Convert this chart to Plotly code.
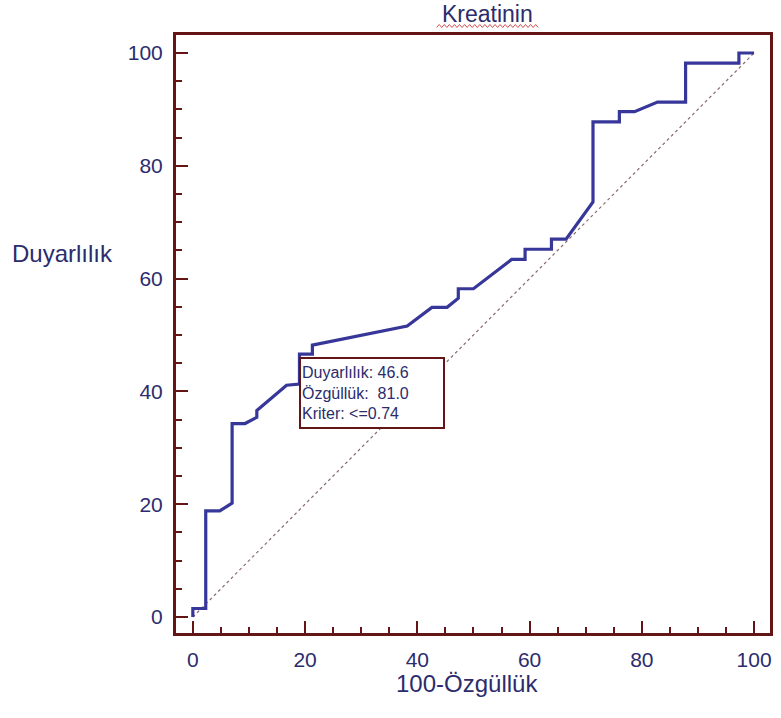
import plotly.graph_objects as go

# ROC curve data (100-Specificity, Sensitivity)
fpr = [0, 0, 2.3, 2.3, 4.8, 7.0, 7.0, 9.3, 11.4, 11.4, 16.7, 19.0, 19.0, 21.3, 21.3,
       38.2, 42.6, 45.3, 47.3, 47.3, 50.0, 56.8, 59.2, 59.2, 63.9, 63.9, 66.5, 71.3,
       71.3, 76.0, 76.0, 78.7, 82.8, 87.8, 87.8, 97.3, 97.3, 100]
tpr = [0, 1.5, 1.5, 18.8, 18.8, 20.2, 34.3, 34.3, 35.4, 36.6, 41.1, 41.3, 46.6, 46.6, 48.2,
       51.6, 54.9, 54.9, 56.5, 58.2, 58.2, 63.4, 63.4, 65.2, 65.2, 67.0, 67.0, 73.6,
       87.8, 87.8, 89.6, 89.6, 91.3, 91.3, 98.2, 98.2, 100, 100]
diag_x = [0, 100]
diag_y = [0, 100]

# Operating point
op_fpr = 19.0
op_sens = 46.6
op_spec = 81.0
op_crit = "<=0.74"

tick_vals = [0, 20, 40, 60, 80, 100]

FONT = "Liberation Sans, Arial, sans-serif"
NAVY = "#2c2c6c"
CURVE = "#37379a"
FRAME = "#641616"

fig = go.Figure()
fig.add_trace(go.Scatter(x=diag_x, y=diag_y, mode="lines",
                         line=dict(color="#8a6a6a", width=1.2, dash="dot"),
                         hoverinfo="skip", showlegend=False))
fig.add_trace(go.Scatter(x=fpr, y=tpr, mode="lines",
                         line=dict(color=CURVE, width=3.2),
                         showlegend=False))

axis_common = dict(
    showgrid=False, zeroline=False,
    showline=True, linecolor=FRAME, linewidth=3, mirror=True,
    ticks="inside", ticklen=12, tickwidth=2, tickcolor=FRAME,
    tickvals=tick_vals,
    tickfont=dict(family=FONT, size=21, color=NAVY),
    minor=dict(ticks="inside", ticklen=6, tickwidth=2, tickcolor=FRAME,
               dtick=5, tick0=0, showgrid=False),
)

fig.update_xaxes(range=[-3.0, 102.84], ticklabelstandoff=6, **axis_common)
fig.update_yaxes(range=[-2.84, 103.19], ticklabelstandoff=6, **axis_common)

annotations = [
    dict(text="Kreatinin", xref="paper", yref="paper", x=0.524, y=(633 - 14) / 598,
         xanchor="center", yanchor="middle", showarrow=False, borderpad=0,
         font=dict(family=FONT, size=23, color=NAVY)),
    dict(text="Duyarlılık", xref="paper", yref="paper", x=-0.28, y=0.634,
         xanchor="left", yanchor="middle", showarrow=False,
         font=dict(family=FONT, size=24, color=NAVY)),
    dict(text="100-Özgüllük", xref="paper", yref="paper", x=0.49, y=-0.085,
         xanchor="center", yanchor="middle", showarrow=False,
         font=dict(family=FONT, size=24, color=NAVY)),
    dict(text=(f"Duyarlılık: {op_sens:.1f}<br>Özgüllük:&nbsp; {op_spec:.1f}"
               f"<br>Kriter: {op_crit.replace('<', '&lt;')}"),
         xref="x", yref="y", x=op_fpr, y=op_sens, yshift=-3,
         xanchor="left", yanchor="top", showarrow=False, align="left",
         width=140, height=66, borderpad=1, borderwidth=2, bordercolor=FRAME,
         bgcolor="white",
         font=dict(family=FONT, size=16, color=NAVY)),
]

# wavy spell-check underline under the title
x0, x1, yb = (438 - 176) / 597, (540 - 176) / 597, (633 - 26) / 598
n = 40
pts = []
for i in range(n + 1):
    xx = x0 + (x1 - x0) * i / n
    yy = yb + (0.0025 if i % 2 else -0.0025)
    pts.append(f"{xx:.5f},{yy:.5f}")
path = "M " + " L ".join(pts)

fig.update_layout(
    width=781, height=718, autosize=False,
    margin=dict(l=176, r=8, t=35, b=85),
    paper_bgcolor="white", plot_bgcolor="white",
    annotations=annotations,
    shapes=[dict(type="path", path=path, xref="paper", yref="paper",
                 line=dict(color="#d05050", width=1))],
    font=dict(family=FONT),
)

# remove the default 8px page margin so the figure fills the window exactly
fig.write_html("out.html",
               config={"displayModeBar": False},
               post_script="document.body.style.margin='0';document.body.style.overflow='hidden';")
